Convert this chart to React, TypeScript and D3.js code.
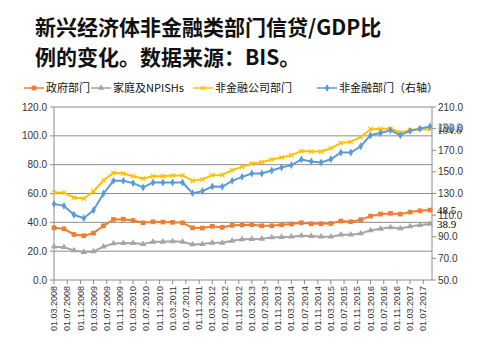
import React from "react";
import * as d3 from "d3";

// quarterly data points, 2008-03 .. 2017-09
const startYear = 2008;
const startMonth = 2; // March (0-based)

const govt = [36.2, 35.5, 31.6, 30.7, 32.5, 37.6, 42.0, 42.2, 41.3, 39.7, 40.4, 40.2, 40.0,
  39.7, 36.2, 36.0, 37.2, 36.5, 37.9, 38.1, 38.3, 37.6, 37.6, 38.3, 38.8, 39.7,
  39.0, 39.0, 39.2, 40.9, 40.4, 41.8, 44.3, 45.7, 46.2, 45.7, 47.1, 48.0, 48.5];
const household = [23.1, 22.8, 20.5, 19.4, 19.8, 23.1, 25.4, 25.6, 25.6, 24.9, 26.5, 26.5, 26.8,
  26.5, 24.7, 24.9, 25.8, 25.8, 27.2, 28.2, 28.4, 28.6, 29.5, 29.8, 30.0, 30.7,
  30.5, 30.0, 30.0, 31.4, 31.4, 32.3, 34.4, 35.5, 36.5, 35.8, 37.2, 38.1, 38.9];
const corp = [60.7, 60.5, 57.2, 56.5, 61.6, 69.2, 74.3, 73.9, 72.0, 70.4, 72.0, 72.0, 72.5,
  72.5, 68.8, 69.9, 72.7, 72.9, 76.2, 78.5, 80.8, 81.7, 83.6, 85.0, 86.6, 89.5,
  89.1, 89.1, 91.4, 95.1, 95.8, 99.2, 104.6, 104.8, 105.0, 102.3, 103.9, 104.8, 104.6];
const nonfin = [120.4, 118.6, 110.3, 107.2, 114.6, 130.0, 141.7, 141.7, 139.6, 135.6, 140.2, 140.2, 140.2,
  140.2, 130.3, 132.2, 136.5, 136.2, 141.7, 145.4, 148.5, 148.5, 151.3, 154.0, 156.2, 161.4,
  159.6, 158.7, 161.7, 167.9, 167.9, 173.7, 183.9, 186.0, 188.5, 183.9, 187.9, 190.0, 192.0];

const leftTicks = [0, 20, 40, 60, 80, 100, 120];
const rightTicks = [50, 70, 90, 110, 130, 150, 170, 190, 210];
const legendNames = ["政府部门", "家庭及NPISHs", "非金融公司部门", "非金融部门（右轴）"];
const colors = ["#ED7D31", "#A5A5A5", "#FFC000", "#5B9BD5"];

const dates = govt.map((_, i) => new Date(startYear, startMonth + 3 * i, 1));
const tickDates = d3.timeMonth.range(new Date(2008, 2, 1), new Date(2017, 7, 1), 4);
const fmt = d3.timeFormat("%d.%m.%Y");

const W = 484, H = 364;
const plotL = 54, plotR = 432, plotT = 107, plotB = 280;

export default function App() {
  const x = d3.scaleTime().domain([dates[0], dates[dates.length - 1]]).range([54, 430]);
  const yL = d3.scaleLinear().domain([0, 120]).range([plotB, plotT]);
  const yR = d3.scaleLinear().domain([50, 210]).range([plotB, plotT]);

  const series = [
    { vals: govt, y: yL, sym: d3.symbolSquare, size: 22, label: "48.5", lc: "#000" },
    { vals: household, y: yL, sym: d3.symbolTriangle, size: 18, label: "38.9", lc: "#000" },
    { vals: corp, y: yL, sym: d3.symbolX, size: 14, label: "104.6", lc: "#333" },
    { vals: nonfin, y: yR, sym: d3.symbolDiamond, size: 18, label: "192.0", lc: "#5B9BD5" },
  ];

  const lineGen = (vals: number[], y: d3.ScaleLinear<number, number>) =>
    d3.line<number>().x((_, i) => x(dates[i])).y((d) => y(d))(vals) || "";

  const legendX = [24, 91, 193, 317];

  return (
    <svg width={W} height={H} style={{ position: "absolute", left: 0, top: 0, background: "#fff" }}
      fontFamily="'Liberation Sans', Arial, sans-serif">
      <text x={35} y={35} fontSize={21} fontWeight="bold" fontFamily="'Noto Sans CJK SC'" fill="#111">
        新兴经济体非金融类部门信贷/GDP比
      </text>
      <text x={35} y={65} fontSize={21} fontWeight="bold" fontFamily="'Noto Sans CJK SC'" fill="#111">
        例的变化。数据来源：BIS。
      </text>

      {/* legend */}
      {legendNames.map((n, i) => {
        const sym = d3.symbol().type(series[i].sym).size(series[i].size)();
        return (
          <g key={n} transform={`translate(${legendX[i]},88)`}>
            <line x1={0} x2={20} y1={0} y2={0} stroke={colors[i]} strokeWidth={1.5} />
            <path d={sym || ""} transform="translate(10,0)" fill={colors[i]} stroke={colors[i]} strokeWidth={i === 2 ? 1.2 : 0} />
            <text x={22} y={4} fontSize={11} fontFamily="'Noto Sans CJK SC'" fill="#111">{n}</text>
          </g>
        );
      })}

      {/* grid */}
      {leftTicks.slice(1).map((t) => (
        <line key={t} x1={plotL} x2={plotR} y1={yL(t)} y2={yL(t)} stroke="#8c8c8c" strokeWidth={1} />
      ))}
      {/* axes */}
      <line x1={plotL} x2={plotL} y1={plotT} y2={plotB} stroke="#8c8c8c" />
      <line x1={plotR} x2={plotR} y1={plotT} y2={plotB} stroke="#8c8c8c" />
      <line x1={plotL} x2={plotR} y1={plotB} y2={plotB} stroke="#8c8c8c" />
      {leftTicks.map((t) => (
        <g key={t}>
          <line x1={plotL - 4} x2={plotL} y1={yL(t)} y2={yL(t)} stroke="#8c8c8c" />
          <text x={plotL - 7} y={yL(t) + 3.5} fontSize={10} textAnchor="end" fill="#333">{t.toFixed(1)}</text>
        </g>
      ))}
      {rightTicks.map((t) => (
        <g key={t}>
          <line x1={plotR} x2={plotR + 4} y1={yR(t)} y2={yR(t)} stroke="#8c8c8c" />
          <text x={plotR + 6} y={yR(t) + 3.5} fontSize={10} textAnchor="start" fill="#333">{t.toFixed(1)}</text>
        </g>
      ))}
      {tickDates.map((d) => (
        <g key={+d}>
          <line x1={x(d)} x2={x(d)} y1={plotB} y2={plotB + 4} stroke="#8c8c8c" />
          <text transform={`translate(${x(d) + 3},${plotB + 6}) rotate(-90)`} fontSize={9} textAnchor="end" fill="#333">
            {fmt(d)}
          </text>
        </g>
      ))}

      {/* series */}
      {series.map((s, i) => (
        <g key={i}>
          <path d={lineGen(s.vals, s.y)} fill="none" stroke={colors[i]} strokeWidth={2} />
          {s.vals.map((v, j) => (
            <path key={j} d={d3.symbol().type(s.sym).size(s.size)() || ""}
              transform={`translate(${x(dates[j])},${s.y(v)})`}
              fill={colors[i]} stroke={colors[i]} strokeWidth={i === 2 ? 1.2 : 0} />
          ))}
        </g>
      ))}

      {/* end labels (overlapping at the top, as in the source) */}
      {series.map((s, i) => (
        <text key={i} x={437} y={s.y(s.vals[s.vals.length - 1]) + (i === 2 ? 5 : 4)}
          fontSize={11} fill={s.lc} fontFamily="'Liberation Serif', serif">
          {s.label}
        </text>
      ))}
    </svg>
  );
}
